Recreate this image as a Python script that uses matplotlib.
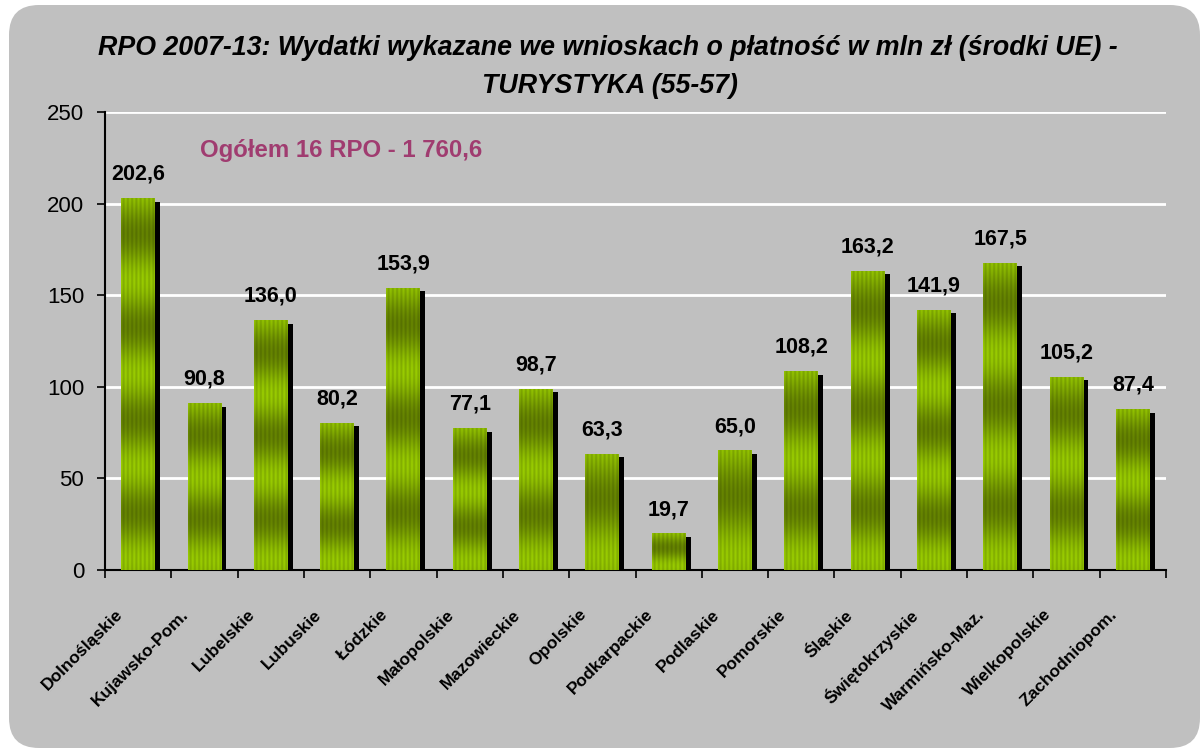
import numpy as np
import matplotlib.pyplot as plt
from matplotlib.patches import FancyBboxPatch, Rectangle
from matplotlib.transforms import ScaledTranslation

regions = ["Dolnośląskie", "Kujawsko-Pom.", "Lubelskie", "Lubuskie", "Łódzkie",
           "Małopolskie", "Mazowieckie", "Opolskie", "Podkarpackie", "Podlaskie",
           "Pomorskie", "Śląskie", "Świętokrzyskie", "Warmińsko-Maz.",
           "Wielkopolskie", "Zachodniopom."]
values = [202.6, 90.8, 136.0, 80.2, 153.9, 77.1, 98.7, 63.3,
          19.7, 65.0, 108.2, 163.2, 141.9, 167.5, 105.2, 87.4]
title1 = "RPO 2007-13: Wydatki wykazane we wnioskach o płatność w mln zł (środki UE) -"
title2 = "TURYSTYKA (55-57)"
total_label = "Ogółem 16 RPO - 1 760,6"

plt.rcParams['font.family'] = ['Liberation Sans', 'DejaVu Sans']

W, H, DPI = 1202, 749, 100
fig = plt.figure(figsize=(W / DPI, H / DPI), dpi=DPI, facecolor='white')

# rounded grey background panel
panel = FancyBboxPatch((0.09, 0.01), 11.91, 7.43,
                       boxstyle='round,pad=0,rounding_size=0.3',
                       transform=fig.dpi_scale_trans,
                       facecolor='#C0C0C0', edgecolor='none', zorder=-10)
fig.patches.append(panel)

ax_pos = [105 / W, 1 - 570 / H, (1166 - 105) / W, (570 - 112) / H]
ax = fig.add_axes(ax_pos)
ax.patch.set_visible(False)

ymax = 250
px_per_unit = (570 - 112) / ymax
bar_w = 0.51
shadow_dx = 5 / ((1166 - 105) / 16)
shadow_dy = 3 / px_per_unit

light = np.array([0.60, 0.80, 0.0])
dark = np.array([0.40, 0.52, 0.0])


def bar_texture(h_px, w_px=34):
    h_px = max(int(round(h_px)), 4)
    n = max(1, round(h_px / 90))
    period = h_px / n
    t = np.arange(h_px)
    v = 0.5 + 0.5 * np.cos(2 * np.pi * (t + period * 0.12) / period)
    x = np.arange(w_px)
    s = 0.5 + 0.5 * np.cos(2 * np.pi * x / 4.25)
    base = dark[None, None, :] + (light - dark)[None, None, :] * v[:, None, None]
    img = base * (0.86 + 0.14 * s)[None, :, None]
    return np.clip(img, 0, 1)


for i, v in enumerate(values):
    ax.add_patch(Rectangle((i - bar_w / 2 + shadow_dx, 0), bar_w, v - shadow_dy,
                           facecolor='black', edgecolor='none', zorder=2))
    ax.imshow(bar_texture(v * px_per_unit), extent=(i - bar_w / 2, i + bar_w / 2, 0, v),
              aspect='auto', zorder=3, interpolation='bilinear')
    ax.annotate(f"{v:.1f}".replace('.', ','), (i, v), xytext=(0, 10),
                textcoords='offset points', ha='center', va='bottom',
                fontsize=15.5, fontweight='bold', color='black')

ax.set_xlim(-0.5, len(values) - 0.5)
ax.set_ylim(0, ymax)

ax.set_yticks(range(0, ymax + 1, 50))
ax.yaxis.grid(True, color='white', linewidth=2)
ax.set_axisbelow(True)
ax.tick_params(axis='y', direction='out', length=6, width=1.2, labelsize=16, pad=9)

ax.set_xticks(np.arange(-0.5, len(values), 1))
ax.set_xticklabels([])
ax.set_xticks(np.arange(len(values)), minor=True)
ax.set_xticklabels(regions, minor=True, rotation=45, ha='right', va='center',
                   rotation_mode='anchor', fontsize=12.5, fontweight='bold')
ax.tick_params(axis='x', which='major', direction='out', length=6, width=1.2)
ax.tick_params(axis='x', which='minor', length=0, pad=0)
offset = ScaledTranslation(-18 / DPI, -42 / DPI, fig.dpi_scale_trans)
for lbl in ax.get_xticklabels(minor=True):
    lbl.set_transform(lbl.get_transform() + offset)

for side in ['top', 'right']:
    ax.spines[side].set_visible(False)
for side in ['left', 'bottom']:
    ax.spines[side].set_linewidth(1.5)

fig.text(608 / W, 1 - 48 / H, title1, ha='center', va='center',
         fontsize=19.3, fontweight='bold', fontstyle='italic')
fig.text(610 / W, 1 - 86 / H, title2, ha='center', va='center',
         fontsize=19.3, fontweight='bold', fontstyle='italic')
fig.text(200 / W, 1 - 150 / H, total_label, ha='left', va='center',
         fontsize=17.3, fontweight='bold', color='#A03C70')

fig.savefig('out.png', dpi=DPI, facecolor='white')
